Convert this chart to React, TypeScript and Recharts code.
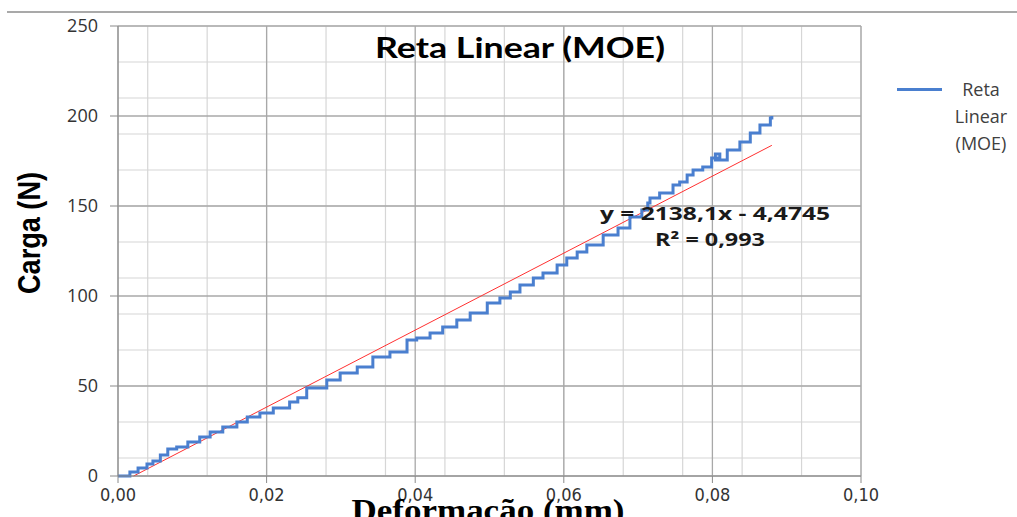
import { LineChart, Line, XAxis, YAxis, CartesianGrid, Legend } from "recharts";

// deformação (mm) x carga (N)
const deformacao = [
  0, 0.0016, 0.0027, 0.0039, 0.0047, 0.0057, 0.0067, 0.0079, 0.0094, 0.011,
  0.0124, 0.0141, 0.016, 0.0174, 0.0191, 0.0209, 0.0231, 0.0242, 0.0254, 0.0281,
  0.0299, 0.0322, 0.0343, 0.0366, 0.0389, 0.0402, 0.042, 0.0437, 0.0456, 0.0474,
  0.0497, 0.0514, 0.0528, 0.0541, 0.0559, 0.0572, 0.0591, 0.0604, 0.0618, 0.0631,
  0.0653, 0.0673, 0.0689, 0.0705, 0.0713, 0.0716, 0.0729, 0.0747, 0.0756, 0.0766,
  0.0774, 0.0787, 0.0799, 0.081, 0.0804, 0.082, 0.0837, 0.0851, 0.0864, 0.0878,
  0.088,
];
const carga = [
  0, 2.2, 4.4, 6.7, 8.3, 11.7, 15, 16.1, 18.9, 21.7,
  24.4, 27.2, 30, 32.8, 35, 37.8, 41.1, 43.5, 48.9, 53.3,
  57.2, 60.6, 66.1, 68.9, 75.6, 76.7, 79.4, 82.8, 86.7, 90.6,
  96.1, 98.9, 102.2, 106.1, 110, 112.8, 117.2, 121.1, 124.4, 128.3,
  133.9, 137.8, 143.9, 147.8, 151.7, 154.4, 157.2, 161.7, 163.3, 167.2,
  170, 171.7, 176.7, 178.9, 175.6, 181.1, 185.6, 190.6, 195, 198.9,
  200,
];

// linear trendline endpoints (y = 2138,1x - 4,4745)
const trendX = [0.0021, 0.088];
const trendY = [0, 183.7];

const xTicks = [0, 0.02, 0.04, 0.06, 0.08, 0.1];
const yTicks = [0, 50, 100, 150, 200, 250];
const xMinor = Array.from({ length: 26 }, (_, i) => i * 0.004);
const yMinor = Array.from({ length: 26 }, (_, i) => i * 10);

const seriesName = "Reta Linear (MOE)";
const equation = "y = 2138,1x - 4,4745";
const rSquared = "R² = 0,993";

const curve = deformacao.map((x, i) => ({ x, y: carga[i] }));
const trend = trendX.map((x, i) => ({ x, y: trendY[i] }));

const BLUE = "#4a7fcf";

function fmt(v: number) {
  return v.toFixed(2).replace(".", ",");
}

function LegendBox() {
  return (
    <div style={{ position: "relative", width: 124, height: 90, fontFamily: "'Open Sans', sans-serif", fontSize: 18, color: "#404040" }}>
      <div style={{ position: "absolute", left: 4, top: 12, width: 45, height: 3, background: BLUE }} />
      <div style={{ position: "absolute", left: 52, top: 0, width: 72, textAlign: "center", lineHeight: "27px" }}>
        Reta<br />Linear<br />(MOE)
      </div>
    </div>
  );
}

export default function App() {
  return (
    <div style={{ position: "absolute", left: 0, top: 0, width: 1017, height: 517, overflow: "hidden", background: "#fff" }}>
      <LineChart width={1017} height={517} margin={{ top: 26, right: 156, bottom: 0, left: 58 }}>
        <CartesianGrid stroke="#d6d6d6" strokeWidth={1.2} verticalValues={xMinor} horizontalValues={yMinor} />
        <CartesianGrid stroke="#a8a8a8" strokeWidth={1.3} verticalValues={xTicks} horizontalValues={yTicks} />
        <XAxis
          type="number"
          dataKey="x"
          domain={[0, 0.1]}
          ticks={xTicks}
          tickFormatter={fmt}
          height={41}
          allowDataOverflow
          stroke="#8a8a8a"
          tickSize={7}
          tickMargin={5}
          tick={{ fontSize: 18, fill: "#333", fontFamily: "'Liberation Sans Narrow', 'DejaVu Sans Condensed', sans-serif" }}
        />
        <YAxis
          type="number"
          dataKey="y"
          domain={[0, 250]}
          ticks={yTicks}
          width={60}
          stroke="#8a8a8a"
          tickSize={8}
          tickMargin={12}
          tick={{ fontSize: 18, fill: "#333", fontFamily: "'Open Sans', sans-serif" }}
        />
        <Legend
          layout="horizontal"
          verticalAlign="middle"
          align="center"
          wrapperStyle={{ left: 893, top: 76, width: 124 }}
          content={() => <LegendBox />}
        />
        <Line
          data={trend}
          dataKey="y"
          type="linear"
          stroke="#ff3030"
          strokeWidth={1}
          dot={false}
          legendType="none"
          isAnimationActive={false}
        />
        <Line
          data={curve}
          dataKey="y"
          name={seriesName}
          type="stepAfter"
          stroke={BLUE}
          strokeWidth={3}
          dot={false}
          isAnimationActive={false}
        />
      </LineChart>
      <svg width={1017} height={517} style={{ position: "absolute", left: 0, top: 0, pointerEvents: "none" }}>
        <line x1={7} y1={12} x2={1017} y2={12} stroke="#8c8c8c" strokeWidth={1.5} />
        <text x={520} y={58} textAnchor="middle" fontFamily="Lato, sans-serif" fontWeight="bold" fontSize={28} textLength={290} lengthAdjust="spacingAndGlyphs" fill="#000">
          {seriesName}
        </text>
        <text x={715} y={220} textAnchor="middle" fontFamily="'Open Sans', sans-serif" fontWeight="bold" fontSize={18} textLength={230} lengthAdjust="spacingAndGlyphs" fill="#1a1a1a">
          {equation}
        </text>
        <text x={710} y={246} textAnchor="middle" fontFamily="'Open Sans', sans-serif" fontWeight="bold" fontSize={18} textLength={110} lengthAdjust="spacingAndGlyphs" fill="#1a1a1a">
          {rSquared}
        </text>
        <text x={40} y={233} transform="rotate(-90 40 233)" textAnchor="middle" fontFamily="'Liberation Sans', sans-serif" fontWeight="bold" fontSize={31} textLength={122} lengthAdjust="spacingAndGlyphs" fill="#000">
          Carga (N)
        </text>
        <text x={488} y={521} textAnchor="middle" fontFamily="'Liberation Serif', serif" fontWeight="bold" fontSize={31} textLength={273} lengthAdjust="spacingAndGlyphs" fill="#000">
          Deformacão (mm)
        </text>
      </svg>
    </div>
  );
}
